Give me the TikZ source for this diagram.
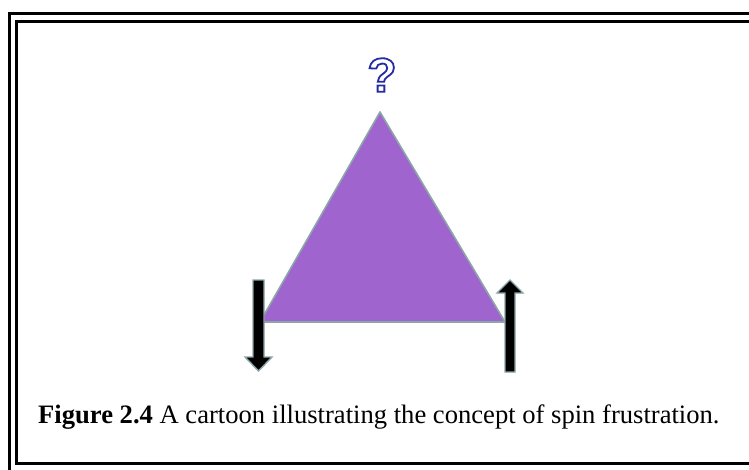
\documentclass[tikz,border=0pt]{standalone}
\usepackage{fontspec}
\setmainfont{Liberation Serif}
\newfontfamily\qfont{Liberation Sans}
\usepackage{tikz}
\usetikzlibrary{positioning, calc}
\definecolor{spinpurple}{RGB}{160,100,206}
\definecolor{edgegray}{RGB}{140,165,168}
\definecolor{qblue}{RGB}{36,44,160}
\tikzset{
  frameline/.style = {draw=black, line width=3pt},
  lattice/.style   = {fill=spinpurple, draw=edgegray, line width=1.6pt, line join=round},
  spinarrow/.style = {fill=black, draw=edgegray, line width=1.4pt, line join=miter},
  caption/.style   = {anchor=base west, inner sep=0pt,
                      font=\fontsize{26.6}{30}\selectfont},
  query/.style     = {inner sep=0pt, text=qblue, font=\qfont\bfseries\fontsize{48}{52}\selectfont},
}
\newcommand{\outlined}[1]{\special{pdf:literal direct 1 Tr 1.8 w}#1\special{pdf:literal direct 0 Tr}}

\begin{document}
\begin{tikzpicture}[x=1pt, y=-1pt]
  \useasboundingbox (0,0) rectangle (749,470);
  \clip (0,0) rectangle (749,470);

  % double frame
  \draw[frameline] (9.5,13.5) rectangle (760,480);
  \draw[frameline] (16.5,21.5) rectangle (752,463.5);

  % triangle
  \coordinate (apex) at (380,112);
  \coordinate (left) at (260,322);
  \coordinate (right) at (505,322);
  \draw[lattice] (apex) -- (left) -- (right) -- cycle;

  \node[query] (q) at (382,75) {\outlined{?}};

  % spins
  \draw[spinarrow] (253,280) -- (264,280) -- (264,357) -- (272,357) -- (258.5,371)
        -- (245,357) -- (253,357) -- cycle;
  \draw[spinarrow] (505,372) -- (515,372) -- (515,293) -- (523,293) -- (510,280)
        -- (497,293) -- (505,293) -- cycle;

  \node[caption] (cap) at (38,423) {\textbf{Figure 2.4} A cartoon illustrating the concept of spin frustration.};
\end{tikzpicture}
\end{document}
